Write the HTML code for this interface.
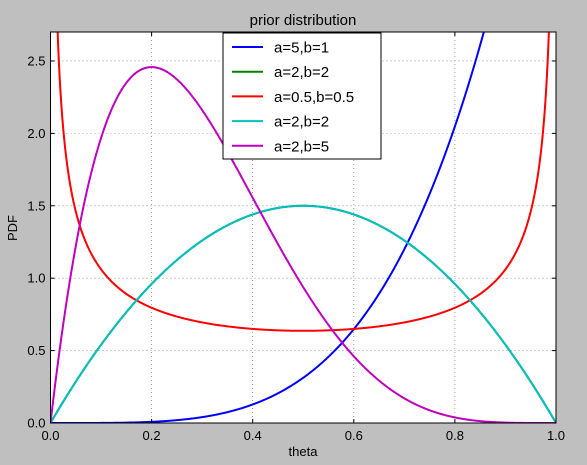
<!DOCTYPE html>
<html><head><meta charset="utf-8"><style>
body{margin:0;background:#bfbfbf;}
svg{display:block;font-family:"Liberation Sans",sans-serif;}
</style></head><body>
<svg id="c" width="587" height="465"></svg>
<script>
const xTicks=[0,0.2,0.4,0.6,0.8,1.0];
const yTicks=[0,0.5,1.0,1.5,2.0,2.5];
const seriesLabels=["a=5,b=1","a=2,b=2","a=0.5,b=0.5","a=2,b=2","a=2,b=5"];
const seriesA=[5,2,0.5,2,2];
const seriesB=[1,2,0.5,2,5];
const seriesColors=["#0000ff","#008000","#ff0000","#00bfbf","#bf00bf"];
const L=50.5,R=556,T=32,B=423,X0=0,X1=1,Y0=0,Y1=2.7;
const sx=v=>L+(v-X0)/(X1-X0)*(R-L);
const sy=v=>B-(v-Y0)/(Y1-Y0)*(B-T);
const NS="http://www.w3.org/2000/svg";
const svg=document.getElementById('c');
function el(t,a,p){const e=document.createElementNS(NS,t);for(const k in a)e.setAttribute(k,a[k]);(p||svg).appendChild(e);return e;}
function lgamma(z){const g=7,c=[0.99999999999980993,676.5203681218851,-1259.1392167224028,771.32342877765313,-176.61502916214059,12.507343278686905,-0.13857109526572012,9.9843695780195716e-6,1.5056327351493116e-7];
if(z<0.5)return Math.log(Math.PI/Math.sin(Math.PI*z))-lgamma(1-z);z-=1;let x=c[0];for(let i=1;i<g+2;i++)x+=c[i]/(z+i);const t=z+g+0.5;return 0.5*Math.log(2*Math.PI)+(z+0.5)*Math.log(t)-t+Math.log(x);}
function pdf(x,a,b){if(x<=0||x>=1){if((x<=0&&a<1)||(x>=1&&b<1))return 50;}
const lb=lgamma(a)+lgamma(b)-lgamma(a+b);const v=Math.exp((a-1)*Math.log(Math.max(x,1e-12))+(b-1)*Math.log(Math.max(1-x,1e-12))-lb);return (x<=0&&a>1)||(x>=1&&b>1)?0:v;}
el('rect',{x:L,y:T,width:R-L,height:B-T,fill:'#fff'});
const defs=el('defs',{});const cp=el('clipPath',{id:'cp'},defs);el('rect',{x:L,y:T,width:R-L,height:B-T},cp);
const grid=el('g',{stroke:'#000','stroke-width':0.6,'stroke-dasharray':'1,3',opacity:0.6});

xTicks.forEach(v=>{el('line',{x1:sx(v),x2:sx(v),y1:T,y2:B},grid);});
yTicks.forEach(v=>{el('line',{x1:L,x2:R,y1:sy(v),y2:sy(v)},grid);});
const lines=el('g',{'clip-path':'url(#cp)'});
seriesA.forEach((a,i)=>{const b=seriesB[i];let d='';const N=600;
for(let k=0;k<=N;k++){const x=k/N;let y=pdf(x,a,b);y=Math.min(y,50);d+=(k?'L':'M')+sx(x).toFixed(2)+','+sy(y).toFixed(2);}
const p=el('path',{d:d,fill:'none',stroke:seriesColors[i],'stroke-width':2},lines);

});
el('rect',{x:L,y:T,width:R-L,height:B-T,fill:'none',stroke:'#000','stroke-width':1});
const ax=el('g',{'font-size':13,fill:'#000'});
xTicks.forEach(v=>{el('line',{x1:sx(v),x2:sx(v),y1:B,y2:B-4,stroke:'#000'},ax);el('line',{x1:sx(v),x2:sx(v),y1:T,y2:T+4,stroke:'#000'},ax);
const t=el('text',{x:sx(v),y:B+17,'text-anchor':'middle'},ax);t.textContent=v.toFixed(1);
});
yTicks.forEach(v=>{el('line',{x1:L,x2:L+4,y1:sy(v),y2:sy(v),stroke:'#000'},ax);el('line',{x1:R,x2:R-4,y1:sy(v),y2:sy(v),stroke:'#000'},ax);
const t=el('text',{x:L-5,y:sy(v)+4.5,'text-anchor':'end'},ax);t.textContent=v.toFixed(1);
});
let t=el('text',{x:303,y:25,'text-anchor':'middle','font-size':15});t.textContent='prior distribution';

t=el('text',{x:303,y:456,'text-anchor':'middle','font-size':13});t.textContent='theta';

t=el('text',{x:17,y:228,'text-anchor':'middle','font-size':13,transform:'rotate(-90 17 228)'});t.textContent='PDF';

const lg=el('g',{});
el('rect',{x:223,y:33,width:158,height:126,fill:'#fff',stroke:'#000','stroke-width':1},lg);
seriesLabels.forEach((s,i)=>{const y=47+i*24.7;const g=el('g',{},lg);

el('line',{x1:232,x2:263,y1:y,y2:y,stroke:seriesColors[i],'stroke-width':2},g);
const tt=el('text',{x:274,y:y+5.5,'font-size':15},g);tt.textContent=s;});
</script>
</body></html>
